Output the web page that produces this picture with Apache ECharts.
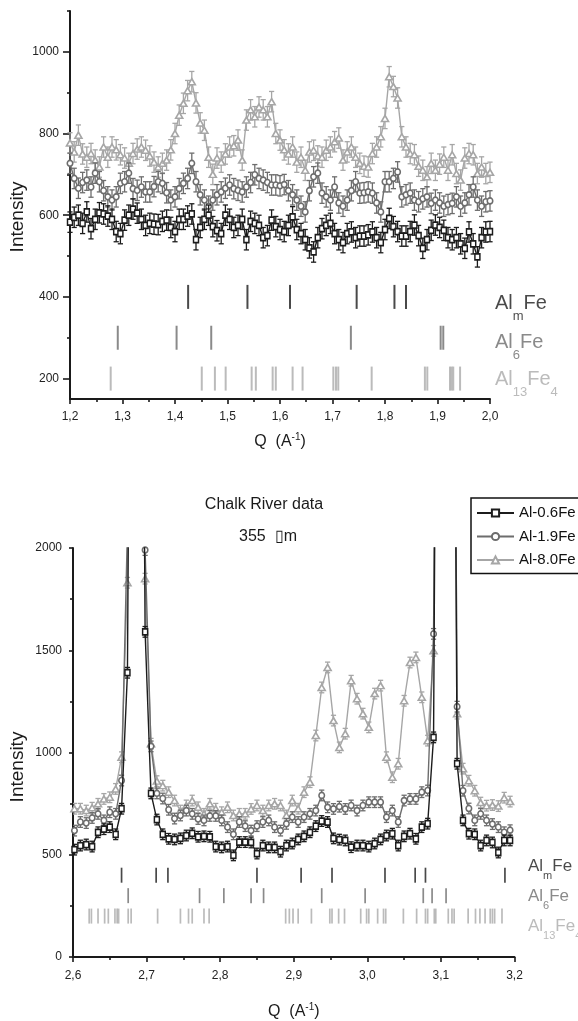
<!DOCTYPE html>
<html><head><meta charset="utf-8">
<script src="https://cdn.jsdelivr.net/npm/echarts@6/dist/echarts.min.js"></script>
<style>html,body{margin:0;padding:0;background:#fff}#c{width:578px;height:1021px}</style>
</head><body><div id="c"></div>
<script>
const FONT = '"Liberation Sans", Arial, Helvetica, sans-serif';
const C_AX = '#1a1a1a', C_BLACK = '#1c1c1c', C_MID = '#6d6d6d', C_LIGHT = '#a6a6a6';

// ---------- top panel (Q 1.2 - 2.0) ----------
const topQStart = 1.2, topQStep = 0.008, topCount = 101;
const top06 = [583,595,600,580,608,567,590,606,603,598,590,560,555,588,600,615,605,590,575,580,
578,577,585,588,570,560,590,590,598,603,540,570,590,600,572,562,555,600,590,570,
575,590,540,585,580,575,545,550,588,572,565,560,575,596,565,555,540,520,510,545,
567,575,580,555,540,533,555,559,545,549,549,552,559,545,533,565,592,572,560,549,
549,560,576,550,519,540,563,576,570,563,545,540,545,530,519,559,530,498,545,559,560];
const top19 = [727,690,666,680,686,669,703,682,660,645,637,645,678,682,703,665,661,669,657,657,
670,682,678,655,637,645,665,678,690,727,682,650,637,622,637,650,657,666,674,665,
661,657,669,680,699,690,686,680,674,674,672,675,660,650,637,622,608,660,694,703,
654,645,637,669,630,622,637,660,682,654,655,657,654,630,608,682,682,690,706,645,
650,654,637,633,640,645,629,637,630,622,626,629,645,622,630,650,669,637,622,633,635];
const top80 = [777,755,796,750,742,751,735,718,767,742,767,760,748,740,727,751,762,767,759,745,
730,718,727,735,760,800,845,874,905,927,875,826,808,742,700,740,730,750,767,770,
784,735,833,858,841,865,858,841,878,800,784,760,750,767,730,742,710,755,759,745,
742,759,767,780,789,735,755,767,742,727,720,718,751,767,792,837,939,915,887,792,
767,751,748,720,710,694,727,710,725,742,710,748,702,686,740,751,748,702,718,702,705];
const topAlmFe = [1.425,1.538,1.619,1.746,1.818,1.840];
const topAl6Fe = [1.291,1.403,1.469,1.735,1.906,1.911];
const topAl13Fe4 = [1.2775,1.451,1.476,1.4965,1.546,1.554,1.586,1.592,1.624,1.643,1.7016,1.7067,1.711,1.7746,1.876,1.8806,1.9238,1.927,1.930,1.943];
const topYLabels = [200,400,600,800,1000];
const topYMinor = [300,500,700,900,1100];
const topErr = 25;

// ---------- bottom panel (Q 2.6 - 3.2) ----------
const botQStart = 2.602, botQStep = 0.008, botCount = 75;
const bot06 = [525,545,550,540,610,625,635,600,725,1390,6000,6000,1590,800,672,600,578,575,580,594,
605,588,590,588,540,536,540,497,562,562,560,506,545,536,536,515,545,555,575,590,
610,640,665,660,580,574,570,537,545,545,540,555,575,594,603,545,590,603,578,635,
652,1074,6000,6000,6000,945,668,603,600,545,570,560,511,570,570];
const bot19 = [618,660,655,680,700,668,708,700,863,2100,6000,6000,1990,1030,800,775,720,677,692,716,
700,675,668,690,690,668,635,600,660,640,618,640,660,668,635,618,651,684,660,684,
700,716,790,732,724,735,724,741,716,741,757,757,757,684,716,660,765,773,773,806,
814,1580,6000,6000,6000,1224,813,726,668,700,668,650,635,610,620];
const bot80 = [725,725,716,730,749,773,781,822,977,1830,6000,6000,1850,1043,860,838,806,765,716,741,
765,732,700,749,725,708,732,692,700,700,724,741,716,741,749,741,692,765,725,806,
855,1083,1318,1416,1156,1025,1092,1351,1263,1190,1123,1288,1327,977,879,945,1253,1440,1465,1270,
1058,1497,6000,6000,6000,1190,921,862,813,755,740,743,738,779,760];
const botAlmFe = [2.666,2.713,2.729,2.850,2.910,2.952,3.024,3.065,3.079,3.187];
const botAl6Fe = [2.675,2.772,2.805,2.842,2.859,2.938,2.997,3.076,3.088,3.107];
const botAl13Fe4 = [2.622,2.625,2.634,2.643,2.648,2.657,2.660,2.662,2.675,2.679,2.715,2.746,2.757,2.762,2.778,2.785,
2.889,2.894,2.899,2.906,2.924,2.949,2.952,2.961,2.969,2.991,2.999,3.002,3.014,3.022,3.025,3.049,3.067,3.079,3.082,
3.091,3.093,3.110,3.115,3.118,3.137,3.147,3.153,3.160,3.167,3.170,3.173,3.183];
const botErr = 26;

const seriesNames = ['Al-0.6Fe','Al-1.9Fe','Al-8.0Fe'];
const phaseLevels = [400,300,200];

const qTop = Array.from({length: topCount}, (_, k) => +(topQStart + topQStep * k).toFixed(4));
const qBot = Array.from({length: botCount}, (_, k) => +(botQStart + botQStep * k).toFixed(4));

function pairs(qs, vals){ return qs.map((q, i) => [q, vals[i]]); }

function lineSeries(name, xi, yi, qs, vals, color, symbol, size, z, clip){
  return {type:'line', name, xAxisIndex:xi, yAxisIndex:yi, data:pairs(qs, vals),
    symbol, symbolSize:size, showSymbol:true, showAllSymbol:true, clip,
    lineStyle:{color, width:1.4}, itemStyle:{color:'#ffffff', borderColor:color, borderWidth:1.6},
    z, silent:true, animation:false, emphasis:{disabled:true}};
}
function errSeries(xi, yi, qs, vals, err, color, z, clip){
  return {type:'custom', xAxisIndex:xi, yAxisIndex:yi, data:pairs(qs, vals), encode:{x:0, y:1},
    z, clip, silent:true, animation:false,
    renderItem(params, api){
      const x = api.value(0), y = api.value(1);
      const a = api.coord([x, y + err]), b = api.coord([x, y - err]);
      const st = {stroke:color, lineWidth:1.3, fill:null};
      const h = 2.6;
      return {type:'group', children:[
        {type:'line', shape:{x1:a[0], y1:a[1], x2:b[0], y2:b[1]}, style:st},
        {type:'line', shape:{x1:a[0]-h, y1:a[1], x2:a[0]+h, y2:a[1]}, style:st},
        {type:'line', shape:{x1:b[0]-h, y1:b[1], x2:b[0]+h, y2:b[1]}, style:st}
      ]};
    }};
}
function tickSeries(xi, yi, qs, level, color, len, w){
  return {type:'scatter', xAxisIndex:xi, yAxisIndex:yi, data:qs.map(q => [q, level]),
    symbol:'rect', symbolSize:[w, len], itemStyle:{color}, silent:true, z:5, animation:false, clip:false};
}
function phaseLabel(xi, yi, x, level, fmt, color, big, small, pad, dist, oy){
  return {type:'scatter', xAxisIndex:xi, yAxisIndex:yi, data:[[x, level]], symbolSize:1,
    itemStyle:{color:'rgba(0,0,0,0)'}, silent:true, clip:false, animation:false, z:6,
    label:{show:true, position:'right', distance:dist, offset:[0, oy], formatter:fmt, fontFamily:FONT,
      rich:{a:{fontSize:big, color, fontFamily:FONT, verticalAlign:'top'},
            s:{fontSize:small, color, fontFamily:FONT, verticalAlign:'top', padding:[pad,0,0,0]}}}};
}
const commaFmt = v => v.toFixed(1).replace('.', ',');
const plainFmt = v => String(Math.round(v));
const axLine = {show:true, onZero:false, lineStyle:{color:C_AX, width:2}};
const tickStyle = {color:C_AX, width:1.6};
const labelStyle = {fontSize:12, color:'#222', fontFamily:FONT};
const qName = '{n|Q  (A}{s|-1}{n|)}';
const qNameStyle = {fontSize:16, color:C_AX, fontFamily:FONT,
  rich:{n:{fontSize:16, color:C_AX, fontFamily:FONT, verticalAlign:'bottom'},
        s:{fontSize:10, color:C_AX, fontFamily:FONT, verticalAlign:'bottom', padding:[0,0,8,0]}}};

const option = {
  backgroundColor:'#ffffff',
  animation:false,
  textStyle:{fontFamily:FONT},
  grid:[
    {left:70, top:11, width:420, height:388, outerBoundsMode:'none', containLabel:false},
    {left:73, top:548, width:441.5, height:409, outerBoundsMode:'none', containLabel:false}
  ],
  xAxis:[
    {gridIndex:0, type:'value', min:1.2, max:2.0, interval:0.1, axisLine:axLine, splitLine:{show:false},
     axisTick:{show:true, length:5, lineStyle:tickStyle}, minorTick:{show:true, splitNumber:2, length:3, lineStyle:tickStyle},
     minorSplitLine:{show:false}, axisLabel:Object.assign({formatter:commaFmt, margin:12}, labelStyle),
     name:qName, nameLocation:'middle', nameGap:33, nameTextStyle:qNameStyle},
    {gridIndex:1, type:'value', min:2.6, max:3.2, interval:0.1, axisLine:axLine, splitLine:{show:false},
     axisTick:{show:true, length:5, lineStyle:tickStyle}, minorTick:{show:true, splitNumber:2, length:3, lineStyle:tickStyle},
     minorSplitLine:{show:false}, axisLabel:Object.assign({formatter:commaFmt, margin:13}, labelStyle),
     name:qName, nameLocation:'middle', nameGap:45, nameTextStyle:qNameStyle}
  ],
  yAxis:[
    {gridIndex:0, type:'value', min:150, max:1100, axisLine:axLine, splitLine:{show:false},
     axisTick:{show:true, length:7, customValues:topYLabels, lineStyle:tickStyle},
     axisLabel:Object.assign({customValues:topYLabels, formatter:plainFmt, margin:11}, labelStyle)},
    {gridIndex:0, type:'value', min:150, max:1100, position:'left', offset:0, axisLine:{show:false},
     splitLine:{show:false}, axisLabel:{show:false},
     axisTick:{show:true, length:3, customValues:topYMinor, lineStyle:tickStyle}},
    {gridIndex:1, type:'value', min:0, max:2000, interval:500, axisLine:axLine, splitLine:{show:false},
     axisTick:{show:true, length:4, lineStyle:tickStyle}, minorTick:{show:true, splitNumber:2, length:3, lineStyle:tickStyle},
     minorSplitLine:{show:false}, axisLabel:Object.assign({formatter:plainFmt, margin:11}, labelStyle)}
  ],
  legend:{data:seriesNames, orient:'vertical', left:471, top:498, itemWidth:37, itemHeight:9, itemGap:8.5,
    padding:[7.5,12,6,5], borderColor:'#111', borderWidth:1.5, backgroundColor:'#fff', selectedMode:false,
    textStyle:{fontSize:15, color:'#111', fontFamily:FONT}},
  graphic:[
    {type:'text', x:17.5, y:217, rotation:Math.PI/2, silent:true,
     style:{text:'Intensity', fontSize:19, fontFamily:FONT, fill:C_AX, align:'center', verticalAlign:'middle', textAlign:'center', textVerticalAlign:'middle'}},
    {type:'text', x:18, y:767, rotation:Math.PI/2, silent:true,
     style:{text:'Intensity', fontSize:19, fontFamily:FONT, fill:C_AX, align:'center', verticalAlign:'middle', textAlign:'center', textVerticalAlign:'middle'}},
    {type:'text', x:264, y:505, silent:true,
     style:{text:'Chalk River data', fontSize:16, fontFamily:FONT, fill:C_AX, align:'center', verticalAlign:'middle', textAlign:'center', textVerticalAlign:'middle'}},
    {type:'text', x:268, y:537, silent:true,
     style:{text:'355  \u25AFm', fontSize:16, fontFamily:FONT, fill:C_AX, align:'center', verticalAlign:'middle', textAlign:'center', textVerticalAlign:'middle'}}
  ],
  series:[
    // top panel
    errSeries(0,0,qTop,top80,topErr,C_LIGHT,2,false),
    lineSeries(seriesNames[2],0,0,qTop,top80,C_LIGHT,'triangle',[7,6],2,false),
    errSeries(0,0,qTop,top19,topErr,C_MID,3,false),
    lineSeries(seriesNames[1],0,0,qTop,top19,C_MID,'circle',[5.5,6],3,false),
    errSeries(0,0,qTop,top06,topErr,C_BLACK,4,false),
    lineSeries(seriesNames[0],0,0,qTop,top06,C_BLACK,'rect',[5,6],4,false),
    tickSeries(0,0,topAlmFe,phaseLevels[0],C_BLACK,24,2),
    tickSeries(0,0,topAl6Fe,phaseLevels[1],C_MID,24,2),
    tickSeries(0,0,topAl13Fe4,phaseLevels[2],'#aaaaaa',24,2),
    phaseLabel(0,0,2.0,phaseLevels[0],'{a|Al}{s|m}{a|Fe}',C_BLACK,20,13,16.5,4.5,11.25),
    phaseLabel(0,0,2.0,phaseLevels[1],'{a|Al}{s|6}{a|Fe}',C_MID,20,13,16.5,4.5,9.55),
    phaseLabel(0,0,2.0,phaseLevels[2],'{a|Al}{s|13}{a|Fe}{s|4}','#aaaaaa',20,13,16.5,4.5,6.05),
    // bottom panel
    errSeries(1,2,qBot,bot80,botErr,C_LIGHT,2,true),
    lineSeries(seriesNames[2],1,2,qBot,bot80,C_LIGHT,'triangle',[7,6],2,true),
    errSeries(1,2,qBot,bot19,botErr,C_MID,3,true),
    lineSeries(seriesNames[1],1,2,qBot,bot19,C_MID,'circle',[5.5,6],3,true),
    errSeries(1,2,qBot,bot06,botErr,C_BLACK,4,true),
    lineSeries(seriesNames[0],1,2,qBot,bot06,C_BLACK,'rect',[5,6],4,true),
    tickSeries(1,2,botAlmFe,phaseLevels[0],C_BLACK,15,1.7),
    tickSeries(1,2,botAl6Fe,phaseLevels[1],C_MID,15,1.7),
    tickSeries(1,2,botAl13Fe4,phaseLevels[2],'#aaaaaa',15,1.7),
    phaseLabel(1,2,3.2,phaseLevels[0],'{a|Al}{s|m}{a|Fe}',C_BLACK,17,11,13.5,13,-5.55),
    phaseLabel(1,2,3.2,phaseLevels[1],'{a|Al}{s|6}{a|Fe}',C_MID,17,11,13.5,13,3.95),
    phaseLabel(1,2,3.2,phaseLevels[2],'{a|Al}{s|13}{a|Fe}{s|4}','#aaaaaa',17,11,13.5,13,13.55)
  ]
};
const chart = echarts.init(document.getElementById('c'), null, {renderer:'canvas'});
chart.setOption(option);
</script></body></html>
